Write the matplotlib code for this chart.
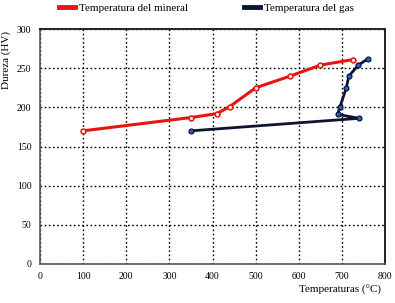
import matplotlib.pyplot as plt
from matplotlib.lines import Line2D

plt.rcParams['font.family'] = ['Liberation Serif', 'DejaVu Serif']

# Data
temp_mineral = [100, 350, 410, 440, 500, 580, 650, 725]
dureza_mineral = [170, 187, 192, 201, 225, 240, 254, 261]

temp_gas = [350, 740, 690, 695, 710, 716, 738, 760]
dureza_gas = [170, 186, 191, 200, 225, 240, 254, 262]

x_ticks = list(range(0, 801, 100))
y_ticks = list(range(0, 301, 50))

fig = plt.figure(figsize=(3.95, 3.03), dpi=100)
ax = fig.add_axes([0.101, 0.129, 0.874, 0.775])

ax.plot(temp_mineral, dureza_mineral, color='#e8140f', linewidth=2.2,
        marker='o', markersize=3.5, markerfacecolor='#fff2e0',
        markeredgecolor='#e8140f', markeredgewidth=1.1)
ax.plot(temp_gas, dureza_gas, color='#0d1530', linewidth=2.0,
        marker='o', markersize=3.5, markerfacecolor='#2a5bd7',
        markeredgecolor='#0d1530', markeredgewidth=0.9)

ax.set_xlim(0, 800)
ax.set_ylim(0, 300)
ax.set_xticks(x_ticks)
ax.set_yticks(y_ticks)
ax.tick_params(length=0, labelsize=7, pad=6)
ax.grid(True, color='black', linestyle=(0, (1.2, 1.8)), linewidth=1.0)

for side in ['left', 'bottom']:
    ax.spines[side].set_color('#555555')
    ax.spines[side].set_linewidth(1.2)
for side in ['right', 'top']:
    ax.spines[side].set_color('#222222')
    ax.spines[side].set_linewidth(1.4)

ax.set_ylabel('Dureza (HV)', fontsize=8)
ax.yaxis.set_label_coords(-0.085, 0.87)
ax.set_xlabel('Temperaturas (°C)', fontsize=8)
ax.xaxis.set_label_coords(0.87, -0.09)

handles = [Line2D([], [], color='#e8140f', linewidth=3.5),
           Line2D([], [], color='#0d1530', linewidth=3.5)]
fig.legend(handles, ['Temperatura del mineral', 'Temperatura del gas'],
           loc='upper left', bbox_to_anchor=(0.125, 1.022), ncol=2,
           frameon=False, fontsize=8, handlelength=1.4, columnspacing=5.0,
           handletextpad=0.4)

fig.savefig('out.png', dpi=100)
